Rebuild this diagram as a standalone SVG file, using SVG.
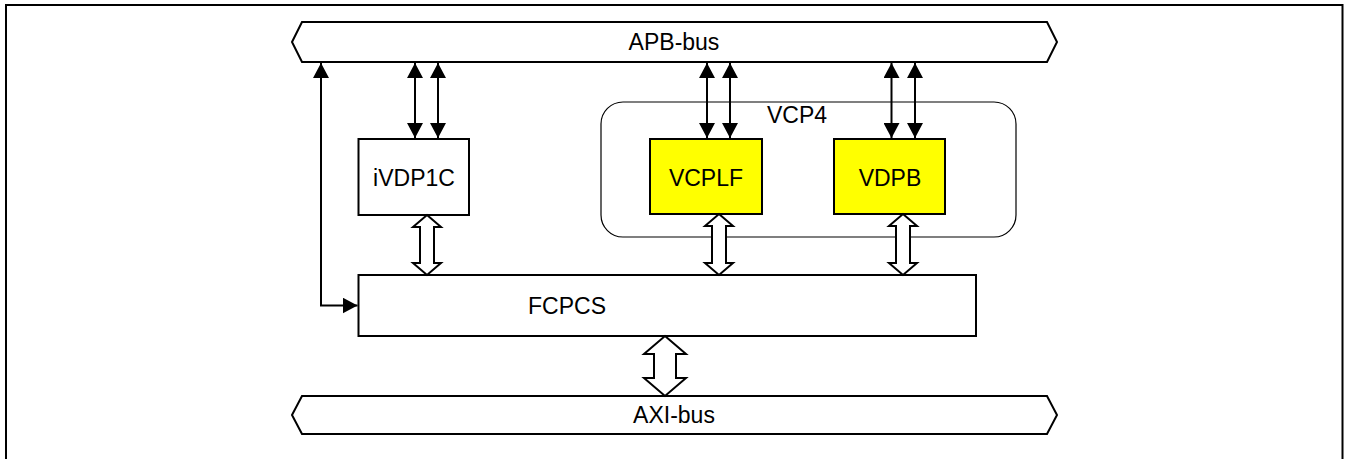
<svg xmlns="http://www.w3.org/2000/svg" width="1347" height="459" viewBox="0 0 1347 459">
<style>
.box{fill:#fff;stroke:#000;stroke-width:2}
.ybox{fill:#ffff00;stroke:#000;stroke-width:2}
.hol{fill:#fff;stroke:#000;stroke-width:2;stroke-linejoin:miter}
.t{font-family:"Liberation Sans",Arial,sans-serif;font-size:23px;fill:#000;text-anchor:middle}
.ar{fill:none;stroke:#000;stroke-width:2;marker-end:url(#ah);marker-start:url(#ahs)}
</style>
<defs>
<marker id="ah" viewBox="0 0 15 16" refX="15" refY="8" markerWidth="15" markerHeight="16" markerUnits="userSpaceOnUse" orient="auto">
<path d="M0,0 L15,8 L0,16 Z" fill="#000"/>
</marker>
<marker id="ahs" viewBox="0 0 15 16" refX="0" refY="8" markerWidth="15" markerHeight="16" markerUnits="userSpaceOnUse" orient="auto">
<path d="M15,0 L0,8 L15,16 Z" fill="#000"/>
</marker>
</defs>
<rect x="6" y="5" width="1336.5" height="470" fill="none" stroke="#000" stroke-width="2"/>
<g id="apb">
<polygon class="box" points="292,42 302,22 1047,22 1057,42 1047,62 302,62"/>
<text class="t" x="674" y="50">APB-bus</text>
</g>
<g id="axi">
<polygon class="box" points="292,415 302,396 1047,396 1057,415 1047,434 302,434"/>
<text class="t" x="674" y="423">AXI-bus</text>
</g>
<g id="vcp4">
<rect x="601" y="102" width="415" height="135" rx="22" ry="22" fill="none" stroke="#000" stroke-width="1.2"/>
<text class="t" x="797" y="123">VCP4</text>
</g>
<g id="ivdp1c">
<rect class="box" x="358.5" y="139" width="110.5" height="76"/>
<text class="t" x="414" y="186">iVDP1C</text>
</g>
<g id="vcplf">
<rect class="ybox" x="650" y="139" width="112" height="75"/>
<text class="t" x="706" y="186">VCPLF</text>
</g>
<g id="vdpb">
<rect class="ybox" x="834" y="139" width="111" height="75"/>
<text class="t" x="890" y="186">VDPB</text>
</g>
<g id="fcpcs">
<rect class="box" x="358.5" y="275" width="617.5" height="61"/>
<text class="t" x="567" y="314">FCPCS</text>
</g>
<g id="connectors">
<line class="ar" x1="415" y1="63" x2="415" y2="138"/>
<line class="ar" x1="438" y1="63" x2="438" y2="138"/>
<line class="ar" x1="707" y1="63" x2="707" y2="138"/>
<line class="ar" x1="730" y1="63" x2="730" y2="138"/>
<line class="ar" x1="891.5" y1="63" x2="891.5" y2="138"/>
<line class="ar" x1="915" y1="63" x2="915" y2="138"/>
<path d="M321,63 L321,305.5 L357.5,305.5" fill="none" stroke="#000" stroke-width="2" marker-start="url(#ahs)" marker-end="url(#ah)"/>
<polygon class="hol" points="427,215 441,227 434,227 434,263 441,263 427,275 413,263 420,263 420,227 413,227"/>
<polygon class="hol" points="719,214 733,226 726,226 726,263 733,263 719,275 705,263 712,263 712,226 705,226"/>
<polygon class="hol" points="903,214 917,226 910,226 910,263 917,263 903,275 889,263 896,263 896,226 889,226"/>
<polygon class="hol" points="665,336 686,354 676,354 676,378 686,378 665,396 644,378 654,378 654,354 644,354"/>
</g>
</svg>
